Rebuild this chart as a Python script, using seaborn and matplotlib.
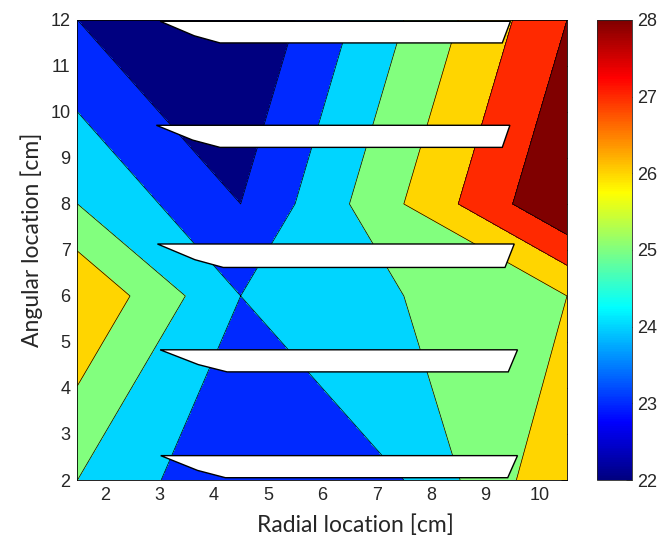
import numpy as np
import pandas as pd
import seaborn as sns
import matplotlib
matplotlib.use("Agg")
import matplotlib.pyplot as plt
from matplotlib.colors import Normalize, LinearSegmentedColormap
from matplotlib.cm import ScalarMappable

# ---- data (temperature field on the measurement grid) ----
radial = [1.5, 4.5, 7.5, 10.5]          # cm
angular = [2, 6, 8, 12]                 # cm
temp_at_y2 = [24.5, 22.55, 23.5, 26.4]
temp_at_y6 = [26.45, 23.5, 24.5, 25.5]
temp_at_y8 = [24.5, 22.5, 25.5, 28.5]
temp_at_y12 = [22.5, 21.5, 24.5, 27.5]

band_edges = [21.0, 22.5, 23.5, 24.5, 25.5, 26.5, 27.5, 29.0]
band_values = [22, 23, 24, 25, 26, 27, 28]
cbar_ticks = [22, 23, 24, 25, 26, 27, 28]
x_ticks = [2, 3, 4, 5, 6, 7, 8, 9, 10]
y_ticks = [2, 3, 4, 5, 6, 7, 8, 9, 10, 11, 12]

# fins (white blades)
fin_top = [11.97, 9.71, 7.13, 4.83, 2.53]
fin_bottom = [11.50, 9.23, 6.62, 4.35, 2.05]
fin_tip_x = [3.02, 2.95, 2.97, 3.02, 3.03]
fin_heel_x = [4.12, 4.12, 4.18, 4.25, 4.22]
fin_end_top_x = [9.46, 9.45, 9.53, 9.59, 9.59]
fin_end_bot_x = [9.31, 9.31, 9.36, 9.42, 9.41]

# ---- build table ----
rows = []
for yv, temps in zip(angular, [temp_at_y2, temp_at_y6, temp_at_y8, temp_at_y12]):
    for xv, t in zip(radial, temps):
        rows.append({"radial": xv, "angular": yv, "T": t})
df = pd.DataFrame(rows)
grid = df.pivot(index="angular", columns="radial", values="T")
X, Y = np.meshgrid(grid.columns.values, grid.index.values)
Z = grid.values

sns.set_style("white")
plt.rcParams["font.family"] = ["Liberation Sans", "DejaVu Sans"]

# MATLAB-style jet
jet = LinearSegmentedColormap.from_list(
    "mjet",
    [(0.0, (0, 0, 0.5)), (0.125, (0, 0, 1)), (0.375, (0, 1, 1)),
     (0.625, (1, 1, 0)), (0.875, (1, 0, 0)), (1.0, (0.5, 0, 0))], N=256)
norm = Normalize(vmin=22, vmax=28)
band_colors = [jet(norm(v)) for v in band_values]

fig = plt.figure(figsize=(6.6, 5.4), dpi=100)
ax = fig.add_axes([0.1174, 0.1111, 0.7417, 0.852])
cax = fig.add_axes([0.9045, 0.1111, 0.0538, 0.852])

ax.contourf(X, Y, Z, levels=band_edges, colors=band_colors)
ax.contour(X, Y, Z, levels=band_edges[1:-1], colors="black", linewidths=0.5)

for top, bot, tip, heel, et, eb in zip(fin_top, fin_bottom, fin_tip_x,
                                       fin_heel_x, fin_end_top_x, fin_end_bot_x):
    kx = tip + 0.57 * (heel - tip)
    ky = top - 0.67 * (top - bot)
    ax.fill([tip, et, eb, heel, kx], [top, top, bot, bot, ky],
            facecolor="white", edgecolor="black", linewidth=1.0, zorder=3)

ax.set_xlim(1.5, 10.5)
ax.set_ylim(2, 12)
ax.set_xticks(x_ticks)
ax.set_yticks(y_ticks)
ax.tick_params(direction="in", top=True, right=True, length=4, width=0.6,
               labelsize=13, pad=5)
for s in ax.spines.values():
    s.set_color("black")
    s.set_linewidth(0.6)
    s.set_zorder(5)

label_font = ["Lato", "DejaVu Sans"]
ax.set_xlabel("Radial location [cm]", fontsize=16.5, family=label_font)
ax.xaxis.label.set_verticalalignment("baseline")
ax.xaxis.set_label_coords(0.567, -0.113)
ax.set_ylabel("Angular location [cm]", fontsize=16.5, family=label_font)
ax.yaxis.label.set_verticalalignment("center")
ax.yaxis.set_label_coords(-0.093, 0.522)

sm = ScalarMappable(norm=norm, cmap=jet)
cb = fig.colorbar(sm, cax=cax, ticks=cbar_ticks)
cb.outline.set_linewidth(0.6)
cax.tick_params(direction="in", length=4, width=0.6, labelsize=13, pad=3)

fig.savefig("out.png", dpi=100)
